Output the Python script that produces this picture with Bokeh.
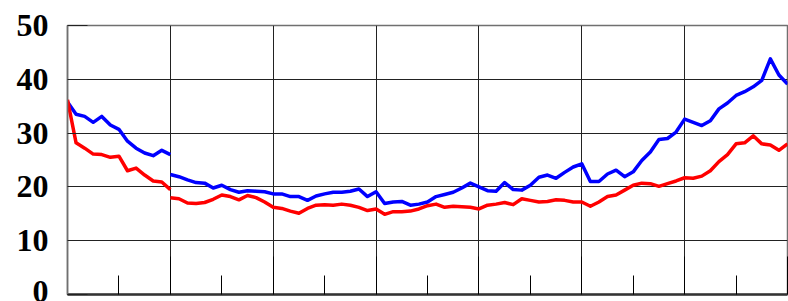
from bokeh.plotting import figure
from bokeh.models import FixedTicker, Range1d
from bokeh.embed import file_html
from bokeh.resources import INLINE

# months since start (0..84), first year and the rest are separate segments
months_a = list(range(0, 13))
months_b = list(range(12, 85))

blue_a = [35.8, 33.5, 33.1, 32.0, 33.1, 31.5, 30.7, 28.5, 27.2, 26.3, 25.8, 26.8, 26.0]
red_a = [36.2, 28.2, 27.2, 26.1, 26.0, 25.5, 25.7, 23.0, 23.5, 22.2, 21.1, 20.9, 19.5]

blue_b = [22.3, 21.9, 21.3, 20.8, 20.7, 19.8, 20.3, 19.5, 19.0, 19.3, 19.2, 19.1, 18.7,
          18.7, 18.2, 18.2, 17.5, 18.3, 18.7, 19.0, 19.0, 19.2, 19.6, 18.2, 19.1,
          16.9, 17.2, 17.3, 16.6, 16.8, 17.2, 18.2, 18.6, 19.0, 19.8, 20.7, 20.0,
          19.3, 19.2, 20.8, 19.5, 19.4, 20.3, 21.8, 22.2, 21.6, 22.7, 23.7, 24.3,
          21.0, 21.0, 22.4, 23.1, 21.9, 22.8, 24.9, 26.5, 28.8, 29.0, 30.2, 32.6,
          32.0, 31.4, 32.3, 34.5, 35.6, 37.0, 37.7, 38.6, 39.8, 43.8, 40.8, 39.1]

red_b = [18.0, 17.8, 17.0, 16.9, 17.1, 17.7, 18.5, 18.2, 17.6, 18.4, 18.0, 17.2, 16.2,
         16.0, 15.5, 15.1, 16.0, 16.6, 16.7, 16.6, 16.8, 16.6, 16.2, 15.6, 15.9,
         14.9, 15.4, 15.4, 15.5, 15.9, 16.5, 16.8, 16.2, 16.4, 16.3, 16.2, 15.9,
         16.6, 16.8, 17.1, 16.7, 17.8, 17.5, 17.2, 17.3, 17.6, 17.5, 17.2, 17.2,
         16.4, 17.2, 18.2, 18.5, 19.4, 20.3, 20.7, 20.6, 20.1, 20.6, 21.1, 21.7,
         21.6, 22.0, 23.0, 24.7, 26.0, 28.0, 28.2, 29.5, 28.0, 27.8, 26.8, 28.0]

x_major = [0, 12, 24, 36, 48, 60, 72, 84]
x_minor = [6, 18, 30, 42, 54, 66, 78]
y_ticks = [0, 10, 20, 30, 40, 50]

p = figure(width=788, height=301, output_backend="svg", toolbar_location=None,
           x_range=Range1d(0, 84), y_range=Range1d(0, 50),
           min_border_left=67, min_border_right=1, min_border_top=25, min_border_bottom=7)

p.background_fill_color = "white"
p.border_fill_color = "white"
p.outline_line_color = "#707070"
p.outline_line_width = 1.5

for xs, ys, c in [(months_a, blue_a, "#0000ff"), (months_b, blue_b, "#0000ff"),
                  (months_a, red_a, "#ff0000"), (months_b, red_b, "#ff0000")]:
    p.line(xs, ys, line_color=c, line_width=3.5, line_join="round")

# x axis (no labels)
xa = p.xaxis[0]
xa.ticker = FixedTicker(ticks=x_major, minor_ticks=x_minor)
xa.major_label_overrides = {t: "" for t in x_major}
xa.major_label_text_font_size = "10px"
xa.major_label_standoff = 0
xa.major_tick_in = 38
xa.major_tick_out = 0
xa.minor_tick_in = 19
xa.minor_tick_out = 0
xa.major_tick_line_color = "black"
xa.minor_tick_line_color = "black"
xa.axis_line_color = "#333333"
xa.axis_line_width = 2.5

# y axis
ya = p.yaxis[0]
ya.ticker = FixedTicker(ticks=y_ticks)
ya.major_label_text_font = "Liberation Serif"
ya.major_label_text_font_style = "bold"
ya.major_label_text_font_size = "32px"
ya.major_label_text_color = "black"
ya.major_label_standoff = 19
ya.major_tick_in = 20
ya.major_tick_out = 0
ya.minor_tick_line_color = None
ya.major_tick_line_color = "#222222"
ya.axis_line_color = "#707070"
ya.axis_line_width = 1.5

p.xgrid.ticker = FixedTicker(ticks=x_major)
p.ygrid.ticker = FixedTicker(ticks=y_ticks)
p.xgrid.grid_line_color = "#222222"
p.ygrid.grid_line_color = "#222222"
p.xgrid.grid_line_width = 1
p.ygrid.grid_line_width = 1

open("out.html", "w").write(file_html(p, INLINE))
